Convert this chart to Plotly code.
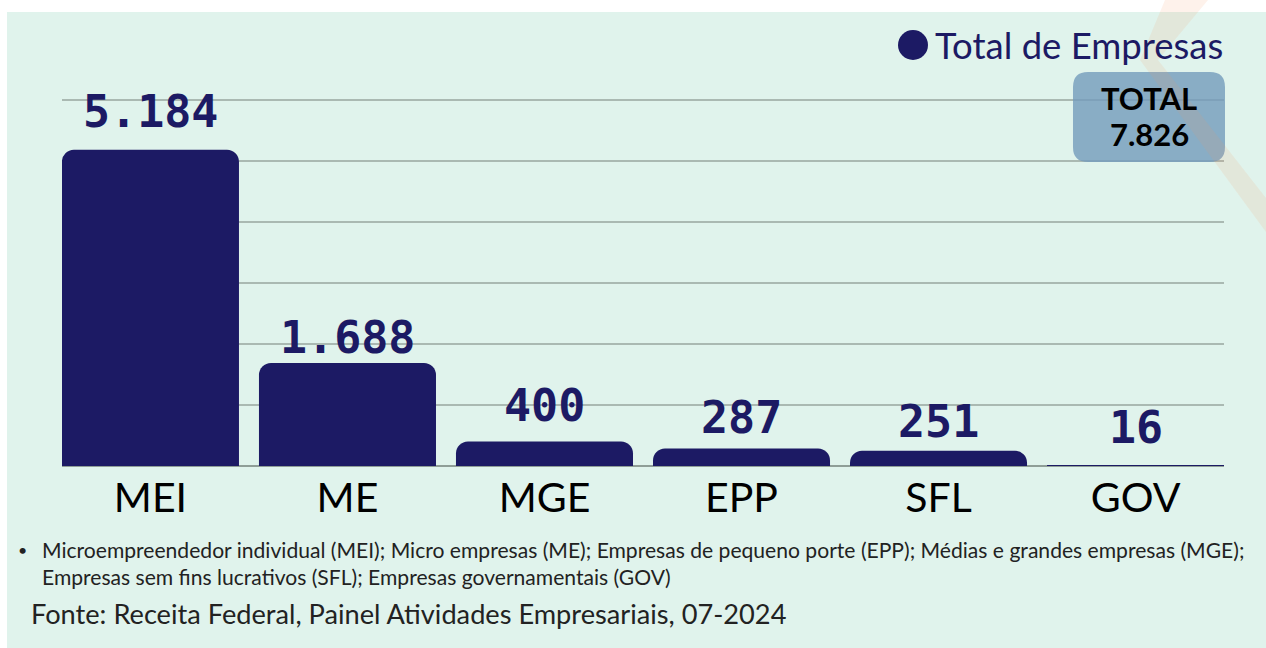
import plotly.graph_objects as go

# ---- data ----
categories = ["MEI", "ME", "MGE", "EPP", "SFL", "GOV"]
values = [5184, 1688, 400, 287, 251, 16]
value_labels = ["5.184", "1.688", "400", "287", "251", "16"]
legend_name = "Total de Empresas"
total_label = ["TOTAL", "7.826"]
note_lines = [
    "Microempreendedor individual (MEI); Micro empresas (ME); Empresas de pequeno porte (EPP); Médias e grandes empresas (MGE);",
    "Empresas sem fins lucrativos (SFL); Empresas governamentais (GOV)",
]
source_text = "Fonte: Receita Federal, Painel Atividades Empresariais, 07-2024"

# ---- layout geometry (pixels) ----
W, H = 1266, 648
PL, PR, PT, PB = 62, 1224, 96, 466
NAVY = "#1c1a64"
MINT = "#e0f3ec"
GRID = "#aab9b2"
Y_TOP = 6000 * (PB - PT) / (PB - 100)  # 6000 sits at pixel row 100


def px(x):
    return (x - PL) / (PR - PL)


def py(y):
    return (PB - y) / (PB - PT)


def rrect(x0, y0, x1, y1, r):
    X = lambda v: f"{px(v):.5f}"
    Y = lambda v: f"{py(v):.5f}"
    return (f"M {X(x0+r)},{Y(y0)} L {X(x1-r)},{Y(y0)} Q {X(x1)},{Y(y0)} {X(x1)},{Y(y0+r)} "
            f"L {X(x1)},{Y(y1-r)} Q {X(x1)},{Y(y1)} {X(x1-r)},{Y(y1)} "
            f"L {X(x0+r)},{Y(y1)} Q {X(x0)},{Y(y1)} {X(x0)},{Y(y1-r)} "
            f"L {X(x0)},{Y(y0+r)} Q {X(x0)},{Y(y0)} {X(x0+r)},{Y(y0)} Z")


fig = go.Figure()
fig.add_trace(go.Bar(
    x=categories, y=values, marker=dict(color=NAVY, line=dict(width=0)),
    name=legend_name, showlegend=False, hoverinfo="skip",
))

# value labels above bars (pixel offsets per label for placement)
label_shift = [10, -3, 8, 2, 1, 9]
for c, v, t, s in zip(categories, values, value_labels, label_shift):
    fig.add_annotation(x=c, y=v, text=t, showarrow=False, yanchor="bottom",
                       yshift=s, xref="x", yref="y",
                       font=dict(family="DejaVu Sans Mono", size=45, color=NAVY, weight="bold"))

shapes = []
# white strips (outside panel)
shapes.append(dict(type="rect", xref="paper", yref="paper", x0=px(0), x1=px(W), y0=py(0), y1=py(12),
                   fillcolor="white", line=dict(width=0), layer="below"))
shapes.append(dict(type="rect", xref="paper", yref="paper", x0=px(0), x1=px(7), y0=py(0), y1=py(H),
                   fillcolor="white", line=dict(width=0), layer="below"))
# legend circle
shapes.append(dict(type="circle", xref="paper", yref="paper", x0=px(898), x1=px(928), y0=py(60), y1=py(30),
                   fillcolor=NAVY, line=dict(width=0)))
# total box
shapes.append(dict(type="path", xref="paper", yref="paper", path=rrect(1073, 72, 1225, 162, 15),
                   fillcolor="rgba(115,155,188,0.8)", line=dict(width=0), layer="above"))
# decorative chevron
poly = [(1165, 0), (1208, 0), (1158, 60), (1266, 198), (1266, 232), (1140, 60)]
path = "M " + " L ".join(f"{px(a):.5f},{py(b):.5f}" for a, b in poly) + " Z"
shapes.append(dict(type="path", xref="paper", yref="paper", path=path,
                   fillcolor="rgba(250,150,90,0.12)", line=dict(width=0), layer="above"))

annotations = [
    dict(x=px(933), y=py(45), xref="paper", yref="paper", xanchor="left", yanchor="middle",
         text=legend_name, showarrow=False, font=dict(family="Lato", size=36.5, color=NAVY)),
    dict(x=px(1149), y=py(98), xref="paper", yref="paper", xanchor="center", yanchor="middle",
         text=total_label[0], showarrow=False, font=dict(family="Lato", size=31, color="black", weight="bold")),
    dict(x=px(1149), y=py(134), xref="paper", yref="paper", xanchor="center", yanchor="middle",
         text=total_label[1], showarrow=False, font=dict(family="Lato", size=31, color="black", weight="bold")),
    dict(x=px(22), y=py(549), xref="paper", yref="paper", xanchor="center", yanchor="middle",
         text="•", showarrow=False, font=dict(family="Lato", size=16, color="#222222")),
    dict(x=px(40), y=py(549), xref="paper", yref="paper", xanchor="left", yanchor="middle",
         text=note_lines[0], showarrow=False, font=dict(family="Lato", size=21.1, color="#222222")),
    dict(x=px(40), y=py(576), xref="paper", yref="paper", xanchor="left", yanchor="middle",
         text=note_lines[1], showarrow=False, font=dict(family="Lato", size=21.1, color="#222222")),
    dict(x=px(29), y=py(613), xref="paper", yref="paper", xanchor="left", yanchor="middle",
         text=source_text, showarrow=False, font=dict(family="Lato", size=27.2, color="#222222")),
]
for a in annotations:
    fig.add_annotation(**a)

fig.update_layout(
    width=W, height=H,
    margin=dict(l=PL, r=W - PR, t=PT, b=H - PB, pad=0),
    paper_bgcolor=MINT, plot_bgcolor="rgba(0,0,0,0)",
    bargap=0.1015, barcornerradius=12,
    shapes=shapes, showlegend=False,
    xaxis=dict(range=[-0.449, 5.449], showgrid=False, zeroline=False, showline=False,
               ticks="", ticklabelstandoff=4,
               tickfont=dict(family="Lato", size=41, color="black"), fixedrange=True),
    yaxis=dict(range=[0, Y_TOP], tickvals=[1000, 2000, 3000, 4000, 5000, 6000],
               showgrid=True, gridcolor=GRID, gridwidth=2,
               zeroline=True, zerolinecolor="#8f9e97", zerolinewidth=2,
               showticklabels=False, ticks="", fixedrange=True),
)

fig.write_html(
    "out.html",
    config={"displayModeBar": False},
    post_script="document.body.style.margin='0';document.body.style.overflow='hidden';",
)
